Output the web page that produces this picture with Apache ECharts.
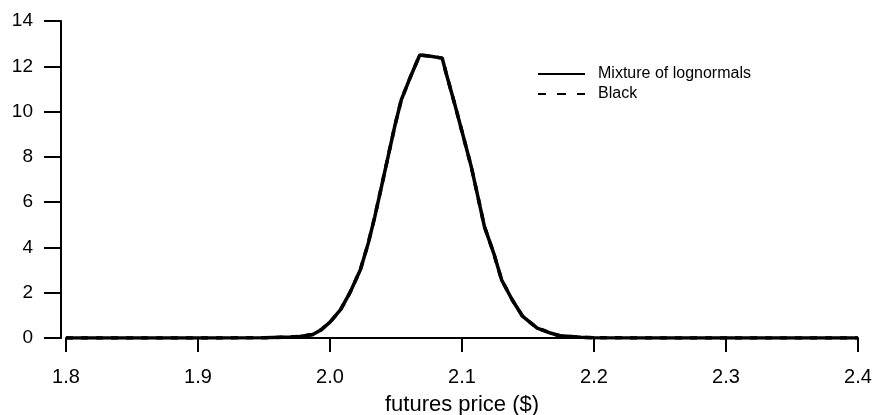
<!DOCTYPE html>
<html>
<head>
<meta charset="utf-8">
<script src="https://cdn.jsdelivr.net/npm/echarts@6/dist/echarts.min.js"></script>
<style>
html,body{margin:0;padding:0;background:#fff;}
#chart{width:876px;height:415px;}
</style>
</head>
<body>
<div id="chart"></div>
<script>
// Data
const seriesNames = ["Mixture of lognormals", "Black"];
const xTicks = [1.8, 1.9, 2.0, 2.1, 2.2, 2.3, 2.4];
const yTicks = [0, 2, 4, 6, 8, 10, 12, 14];
const prices = [1.80, 1.85, 1.90, 1.95, 1.97, 1.977, 1.987, 1.993, 2.000, 2.008, 2.015, 2.023, 2.029, 2.034, 2.039, 2.044, 2.049, 2.054, 2.061, 2.068, 2.075, 2.085, 2.088, 2.095, 2.101, 2.107, 2.112, 2.117, 2.124, 2.130, 2.138, 2.146, 2.157, 2.167, 2.174, 2.190, 2.200, 2.250, 2.300, 2.350, 2.400];
const mixtureValues = [0, 0, 0, 0.01, 0.04, 0.07, 0.15, 0.35, 0.70, 1.25, 1.99, 3.01, 4.19, 5.37, 6.69, 8.01, 9.34, 10.52, 11.54, 12.50, 12.45, 12.36, 11.69, 10.22, 8.90, 7.57, 6.25, 4.92, 3.75, 2.57, 1.69, 0.95, 0.44, 0.22, 0.10, 0.03, 0.01, 0, 0, 0, 0];
const blackValues = [0, 0, 0, 0.01, 0.04, 0.07, 0.15, 0.35, 0.70, 1.25, 1.99, 3.01, 4.19, 5.37, 6.69, 8.01, 9.34, 10.52, 11.54, 12.50, 12.45, 12.36, 11.69, 10.22, 8.90, 7.57, 6.25, 4.92, 3.75, 2.57, 1.69, 0.95, 0.44, 0.22, 0.10, 0.03, 0.01, 0, 0, 0, 0];

const font = "'Liberation Sans', Arial, sans-serif";
const solidIcon = 'path://M0,0 L47,0 L47,2 L0,2 Z';
const dashedIcon = 'path://M0,0 L8,0 L8,2 L0,2 Z M19,0 L28,0 L28,2 L19,2 Z M39,0 L47,0 L47,2 L39,2 Z';

const chart = echarts.init(document.getElementById('chart'), null, {renderer: 'canvas'});
chart.setOption({
  animation: false,
  backgroundColor: '#fff',
  grid: {left: 66, right: 18, top: 21, bottom: 77, containLabel: false, outerBoundsMode: 'none'},
  legend: {
    orient: 'vertical',
    left: 533,
    top: 61,
    itemWidth: 47,
    itemHeight: 2,
    itemGap: 4,
    data: [
      {name: seriesNames[0], icon: solidIcon},
      {name: seriesNames[1], icon: dashedIcon}
    ],
    itemStyle: {color: '#000', borderWidth: 0},
    textStyle: {fontFamily: font, fontSize: 16, color: '#000', padding: [0, 0, 0, 8]}
  },
  xAxis: {
    type: 'value',
    min: xTicks[0],
    max: xTicks[xTicks.length - 1],
    interval: 0.1,
    offset: 5,
    name: 'futures price ($)',
    nameLocation: 'middle',
    nameGap: 51,
    nameTextStyle: {fontFamily: font, fontSize: 22, color: '#000'},
    axisLine: {lineStyle: {color: '#000', width: 2}},
    axisTick: {length: 14, lineStyle: {color: '#000', width: 2}},
    axisLabel: {
      fontFamily: font, fontSize: 20, color: '#000', margin: 24,
      formatter: v => v.toFixed(1)
    },
    splitLine: {show: false}
  },
  yAxis: {
    type: 'value',
    min: yTicks[0],
    max: yTicks[yTicks.length - 1],
    interval: 2,
    offset: 5,
    axisLine: {show: true, lineStyle: {color: '#000', width: 2}},
    axisTick: {show: true, length: 17, lineStyle: {color: '#000', width: 2}},
    axisLabel: {fontFamily: font, fontSize: 19, color: '#000', margin: 28},
    splitLine: {show: false}
  },
  series: [
    {
      name: seriesNames[0],
      type: 'line',
      symbol: 'none',
      data: prices.map((p, i) => [p, mixtureValues[i]]),
      lineStyle: {color: '#000', width: 3.5, type: 'solid'},
      itemStyle: {color: '#000'},
      z: 3
    },
    {
      name: seriesNames[1],
      type: 'line',
      symbol: 'none',
      data: prices.map((p, i) => [p, blackValues[i]]),
      lineStyle: {color: '#000', width: 3.5, type: [7, 8]},
      itemStyle: {color: '#000'},
      z: 2
    }
  ]
});
</script>
</body>
</html>
